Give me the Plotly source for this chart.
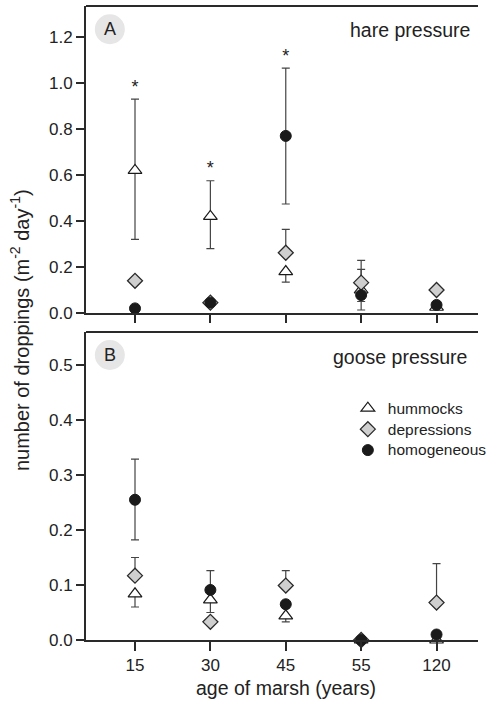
import plotly.graph_objects as go

# ---------------- data ----------------
years = ["15", "30", "45", "55", "120"]
xpos = [0, 1, 2, 3, 4]

# hare pressure (panel A)
hare_hummocks = [0.62, 0.42, 0.18, 0.10, 0.025]
hare_hummocks_up = [0.31, 0.155, 0.0, 0.09, 0.0]
hare_hummocks_dn = [0.30, 0.14, 0.046, 0.05, 0.0]

hare_depressions = [0.14, 0.045, 0.262, 0.132, 0.10]
hare_depressions_up = [0.0, 0.0, 0.102, 0.097, 0.0]
hare_depressions_dn = [0.0, 0.0, 0.0, 0.0, 0.0]

hare_homogeneous = [0.02, 0.045, 0.77, 0.078, 0.035]
hare_homogeneous_up = [0.0, 0.0, 0.295, 0.0, 0.0]
hare_homogeneous_dn = [0.0, 0.0, 0.296, 0.065, 0.0]

star_x = [0, 1, 2]
star_y = [0.975, 0.625, 1.11]

# goose pressure (panel B)
goose_hummocks = [0.084, 0.073, 0.044, 0.0, 0.0]
goose_hummocks_up = [0.0, 0.0, 0.0, 0.0, 0.0]
goose_hummocks_dn = [0.024, 0.023, 0.011, 0.0, 0.0]

goose_depressions = [0.117, 0.033, 0.099, 0.0, 0.068]
goose_depressions_up = [0.033, 0.0, 0.027, 0.0, 0.071]
goose_depressions_dn = [0.0, 0.0, 0.0, 0.0, 0.0]

goose_homogeneous = [0.255, 0.091, 0.065, 0.0, 0.01]
goose_homogeneous_up = [0.074, 0.035, 0.0, 0.0, 0.0]
goose_homogeneous_dn = [0.073, 0.0, 0.0, 0.0, 0.0]

# ---------------- style ----------------
FONT = "Liberation Sans, Arial, sans-serif"
INK = "#222222"
AX = "#2a2a2a"
ERR = "#444444"

styles = {
    "hummocks": dict(symbol="triangle-up", size=12, color="white", line=dict(color="#1a1a1a", width=1.2)),
    "depressions": dict(symbol="diamond", size=11.5, color="#cfcfcf", line=dict(color="#2a2a2a", width=1.3)),
    "homogeneous": dict(symbol="circle", size=11, color="#1a1a1a", line=dict(color="#1a1a1a", width=1)),
}
rank = {"hummocks": 1, "depressions": 2, "homogeneous": 3}

fig = go.Figure()

def add(name, y, up, dn, xa, ya, legend):
    fig.add_trace(go.Scatter(
        x=xpos, y=y, mode="markers",
        name="<span style='font-size:15.5px'>" + name + "</span>",
        marker=styles[name],
        error_y=dict(type="data", symmetric=False, array=up, arrayminus=dn,
                     color=ERR, thickness=1.2, width=4),
        xaxis=xa, yaxis=ya, showlegend=legend, legendrank=rank[name],
        cliponaxis=False,
    ))

# draw order: triangles, diamonds, circles
add("hummocks", hare_hummocks, hare_hummocks_up, hare_hummocks_dn, "x", "y", False)
add("depressions", hare_depressions, hare_depressions_up, hare_depressions_dn, "x", "y", False)
add("homogeneous", hare_homogeneous, hare_homogeneous_up, hare_homogeneous_dn, "x", "y", False)

add("hummocks", goose_hummocks, goose_hummocks_up, goose_hummocks_dn, "x2", "y2", True)
add("depressions", goose_depressions, goose_depressions_up, goose_depressions_dn, "x2", "y2", True)
add("homogeneous", goose_homogeneous, goose_homogeneous_up, goose_homogeneous_dn, "x2", "y2", True)

fig.add_trace(go.Scatter(
    x=star_x, y=star_y, mode="text", text=["*"] * len(star_x),
    textposition="middle center", textfont=dict(family=FONT, size=18, color=INK),
    xaxis="x", yaxis="y", showlegend=False, cliponaxis=False, hoverinfo="skip",
))

axis_common = dict(
    showline=True, linecolor=AX, linewidth=2, ticks="outside", ticklen=8,
    tickwidth=1.5, tickcolor=AX, showgrid=False, zeroline=False,
    tickfont=dict(family=FONT, size=17, color=INK),
)

dom_A = [0.5158, 1.0]
dom_B = [0.0, 0.4858]

fig.update_layout(
    width=492, height=701,
    margin=dict(l=86, r=0, t=6, b=61),
    paper_bgcolor="white", plot_bgcolor="white",
    font=dict(family=FONT, color=INK),
    xaxis=dict(axis_common, domain=[0, 1], anchor="y", range=[-0.65, 4.55],
               tickvals=xpos, ticktext=years, showticklabels=False),
    yaxis=dict(axis_common, domain=dom_A, anchor="x", range=[0, 1.335],
               dtick=0.2, tick0=0, tickformat=".1f"),
    xaxis2=dict(axis_common, domain=[0, 1], anchor="y2", range=[-0.65, 4.55],
                tickvals=xpos, ticktext=years, ticklen=9),
    yaxis2=dict(axis_common, domain=dom_B, anchor="x2", range=[0, 0.56],
                dtick=0.1, tick0=0, tickformat=".1f"),
    legend=dict(x=0.668, y=0.39, xanchor="left", yanchor="top",
                font=dict(family=FONT, size=13.8, color=INK),
                bgcolor="rgba(0,0,0,0)", tracegroupgap=0, itemsizing="trace"),
    shapes=[
        dict(type="line", xref="paper", yref="paper", x0=0, x1=1, y0=dom_A[1], y1=dom_A[1],
             line=dict(color=AX, width=2)),
        dict(type="line", xref="paper", yref="paper", x0=0, x1=1, y0=dom_B[1], y1=dom_B[1],
             line=dict(color=AX, width=2)),
        dict(type="circle", xref="paper", yref="paper", xsizemode="pixel", ysizemode="pixel",
             xanchor=0.0608, yanchor=0.9633, x0=-15, x1=15, y0=-15, y1=15,
             fillcolor="#e6e6e6", line=dict(width=0), layer="below"),
        dict(type="circle", xref="paper", yref="paper", xsizemode="pixel", ysizemode="pixel",
             xanchor=0.0608, yanchor=0.4495, x0=-15, x1=15, y0=-15, y1=15,
             fillcolor="#e6e6e6", line=dict(width=0), layer="below"),
    ],
    annotations=[
        dict(text="A", xref="paper", yref="paper", x=0.0608, y=0.9633, showarrow=False,
             xanchor="center", yanchor="middle", font=dict(family=FONT, size=18, color=INK)),
        dict(text="B", xref="paper", yref="paper", x=0.0608, y=0.4495, showarrow=False,
             xanchor="center", yanchor="middle", font=dict(family=FONT, size=18, color=INK)),
        dict(text="hare pressure", xref="paper", yref="paper", x=0.985, y=0.962, showarrow=False,
             xanchor="right", yanchor="middle", font=dict(family=FONT, size=19.5, color=INK)),
        dict(text="goose pressure", xref="paper", yref="paper", x=0.978, y=0.446, showarrow=False,
             xanchor="right", yanchor="middle", font=dict(family=FONT, size=19.5, color=INK)),
        dict(text="age of marsh (years)", xref="paper", yref="paper", x=0.51, y=-0.0757,
             showarrow=False, xanchor="center", yanchor="middle",
             font=dict(family=FONT, size=19.5, color=INK)),
        dict(text="number of droppings (m<sup>-2</sup> day<sup>-1</sup>)", xref="paper", yref="paper",
             x=-0.168, y=0.489, textangle=-90, showarrow=False, xanchor="center", yanchor="middle",
             font=dict(family=FONT, size=20, color=INK)),
    ],
)

fig.write_html("out.html")
